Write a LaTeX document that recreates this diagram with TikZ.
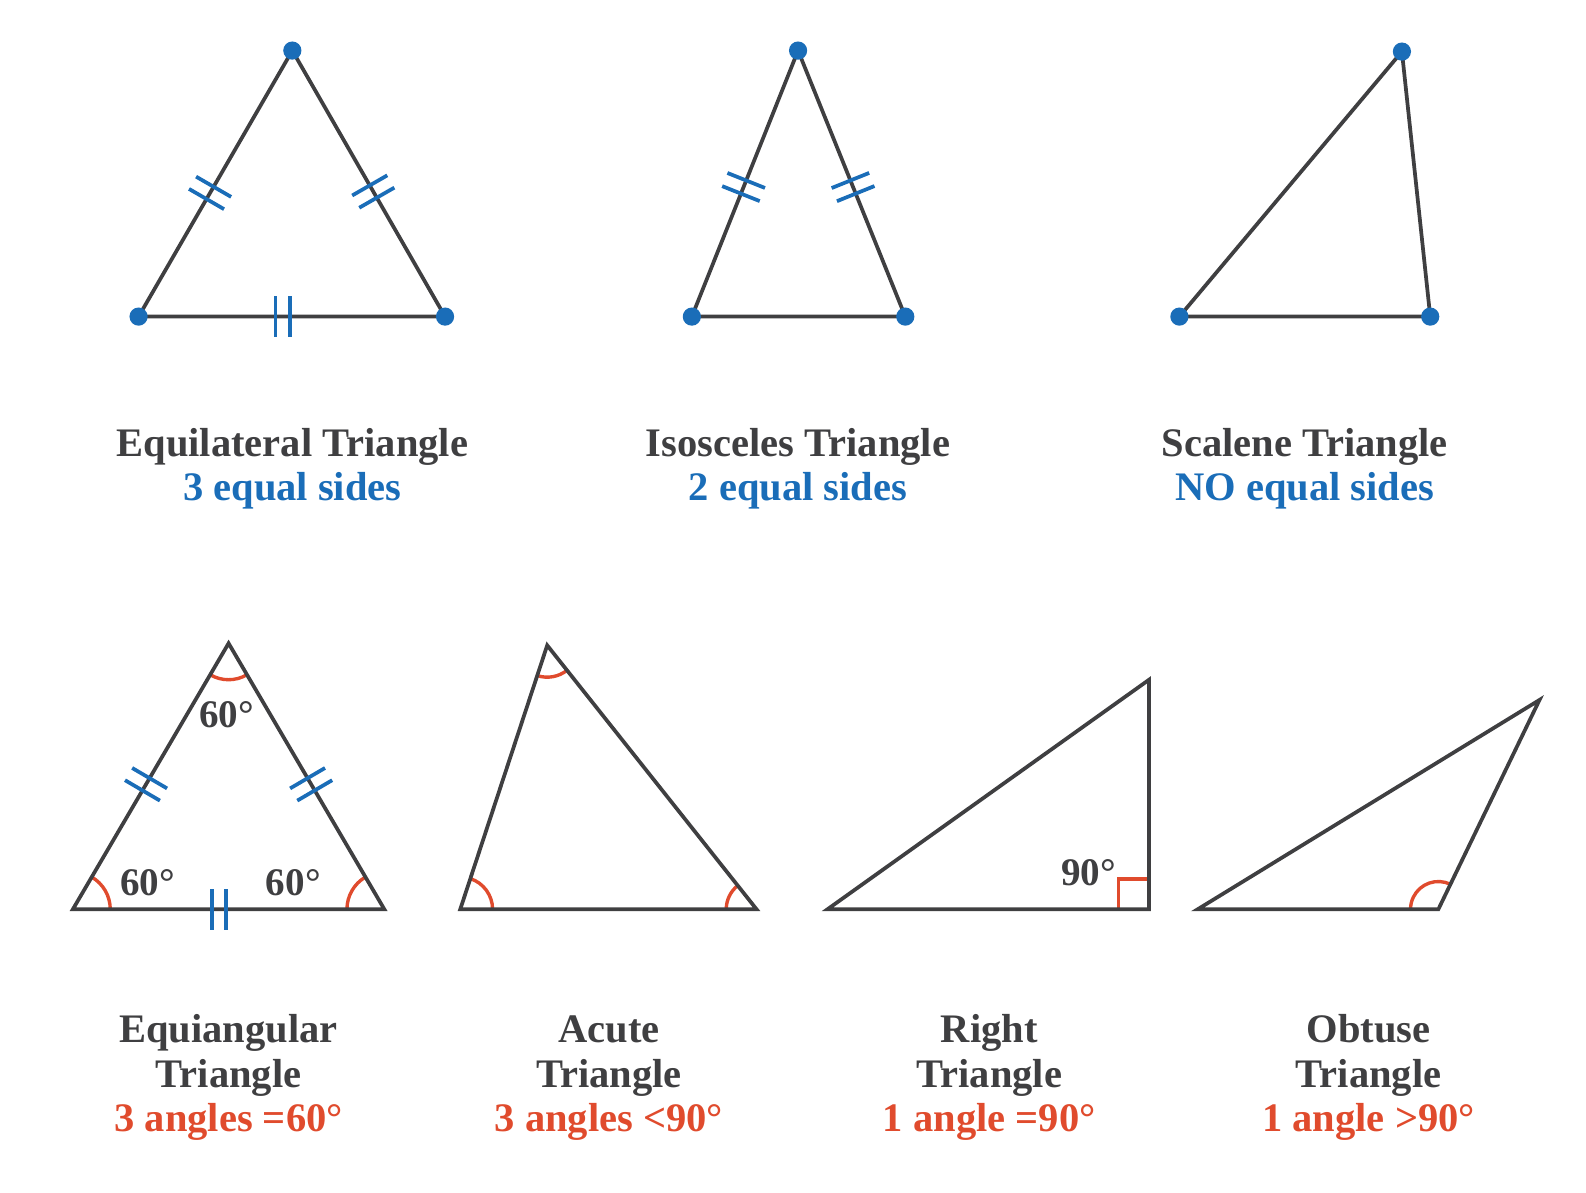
\documentclass[tikz,border=0pt]{standalone}
\usepackage{fontspec}
\setmainfont{Liberation Serif}
\usetikzlibrary{angles,calc}

\definecolor{tgray}{HTML}{3F3F41}
\definecolor{tblue}{HTML}{1A6DB8}
\definecolor{tred}{HTML}{E04B2D}

\tikzset{
  side/.style={draw=tgray, line width=2.1pt, line join=miter},
  vdot/.style={fill=tblue},
  tick/.style={draw=tblue, line width=2.1pt},
  arcmark/.style={draw=tred, line width=1.9pt},
  title/.style={text=tgray, font=\fontsize{22.8}{27}\selectfont\bfseries, anchor=base, inner sep=0pt},
  deg/.style={text=tgray, font=\fontsize{22}{26}\selectfont\bfseries, inner sep=0pt},
  dbltick/.pic={\draw[tick] (-7,-20) -- (-7,20) (7,-20) -- (7,20);}
}

\begin{document}
\begin{tikzpicture}[x=0.02cm,y=-0.02cm]
    \useasboundingbox (0,0) rectangle (1568,1178.5);

    % top row
    \coordinate (eqT) at (289,50);   \coordinate (eqL) at (137,313);  \coordinate (eqR) at (440,313);
    \coordinate (isT) at (789,50);   \coordinate (isL) at (684,313);  \coordinate (isR) at (895,313);
    \coordinate (scT) at (1386,51);  \coordinate (scL) at (1166,313); \coordinate (scR) at (1414,313);

    \draw[side] (eqT) -- (eqL) -- (eqR) -- cycle;
    \draw[side] (isT) -- (isL) -- (isR) -- cycle;
    \draw[side] (scT) -- (scL) -- (scR) -- cycle;

    \path (eqT) -- (eqL) pic[pos=0.535, sloped] {dbltick};
    \path (eqT) -- (eqR) pic[pos=0.53, sloped] {dbltick};
    \path (eqL) -- (eqR) pic[pos=0.47, sloped] {dbltick};
    \path (isT) -- (isL) pic[pos=0.513, sloped] {dbltick};
    \path (isT) -- (isR) pic[pos=0.513, sloped] {dbltick};

    \foreach \p in {eqT,eqL,eqR,isT,isL,isR,scT,scL,scR}
        \fill[vdot] (\p) circle (9);

    \node[title] (eqName) at (289,451) {Equilateral Triangle};
    \node[title, text=tblue] (eqRule) at (289,495) {3 equal sides};
    \node[title] (isName) at (789,451) {Isosceles Triangle};
    \node[title, text=tblue] (isRule) at (789,495) {2 equal sides};
    \node[title] (scName) at (1290,451) {Scalene Triangle};
    \node[title, text=tblue] (scRule) at (1290,495) {NO equal sides};

    % bottom row
    \coordinate (eaT) at (226,636);  \coordinate (eaL) at (72,899);   \coordinate (eaR) at (380,899);
    \coordinate (acT) at (541,638);  \coordinate (acL) at (455,899);  \coordinate (acR) at (748,899);
    \coordinate (rtT) at (1136,672); \coordinate (rtL) at (818,899);  \coordinate (rtR) at (1136,899);
    \coordinate (obT) at (1522,692); \coordinate (obL) at (1184,899); \coordinate (obR) at (1422,899);

    \pic[arcmark, angle radius=0.72cm] {angle = eaL--eaT--eaR};
    \pic[arcmark, angle radius=0.74cm] {angle = eaR--eaL--eaT};
    \pic[arcmark, angle radius=0.74cm] {angle = eaT--eaR--eaL};
    \pic[arcmark, angle radius=0.63cm] {angle = acL--acT--acR};
    \pic[arcmark, angle radius=0.64cm] {angle = acR--acL--acT};
    \pic[arcmark, angle radius=0.6cm] {angle = acT--acR--acL};
    \pic[arcmark, angle radius=0.55cm] {angle = obT--obR--obL};
    \draw[arcmark] ($(rtR)+(-30,0)$) -- ++(0,-30) -- ++(30,0);

    \draw[side] (eaT) -- (eaL) -- (eaR) -- cycle;
    \draw[side] (acT) -- (acL) -- (acR) -- cycle;
    \draw[side] (rtT) -- (rtL) -- (rtR) -- cycle;
    \draw[side] (obT) -- (obL) -- (obR) -- cycle;

    \path (eaT) -- (eaL) pic[pos=0.53, sloped] {dbltick};
    \path (eaT) -- (eaR) pic[pos=0.53, sloped] {dbltick};
    \path (eaL) -- (eaR) pic[pos=0.47, sloped] {dbltick};

    \node[deg] (eaTop) at (224,707) {60°};
    \node[deg] (eaLeft) at (146,873) {60°};
    \node[deg] (eaRight) at (290,873) {60°};
    \node[deg] (rtDeg) at (1076,863) {90°};

    \node[title] (eaName) at (226,1031) {Equiangular};
    \node[title] (eaName2) at (226,1075) {Triangle};
    \node[title, text=tred] (eaRule) at (226,1119) {3 angles =60°};
    \node[title] (acName) at (602,1031) {Acute};
    \node[title] (acName2) at (602,1075) {Triangle};
    \node[title, text=tred] (acRule) at (602,1119) {3 angles <90°};
    \node[title] (rtName) at (978,1031) {Right};
    \node[title] (rtName2) at (978,1075) {Triangle};
    \node[title, text=tred] (rtRule) at (978,1119) {1 angle =90°};
    \node[title] (obName) at (1353,1031) {Obtuse};
    \node[title] (obName2) at (1353,1075) {Triangle};
    \node[title, text=tred] (obRule) at (1353,1119) {1 angle >90°};

\end{tikzpicture}
\end{document}
